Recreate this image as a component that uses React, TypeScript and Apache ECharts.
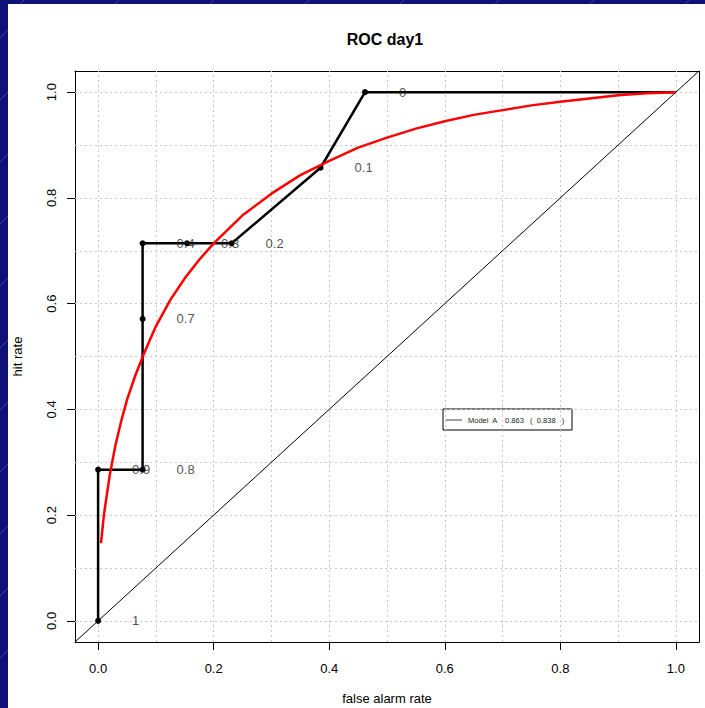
import React, { useEffect, useRef } from 'react';
import * as echarts from 'echarts';

// Empirical ROC points (false alarm rate, hit rate) with threshold labels
const rocFpr = [0, 0, 0.077, 0.077, 0.077, 0.154, 0.231, 0.385, 0.462, 1];
const rocTpr = [0, 0.286, 0.286, 0.571, 0.714, 0.714, 0.714, 0.857, 1, 1];
const thresholdLabels = ['1', '0.9', '0.8', '0.7', '0.4', '0.3', '0.2', '0.1', '0', ''];

// Fitted (red) ROC curve
const fitFpr = [0.005, 0.01, 0.02, 0.03, 0.04, 0.05, 0.065, 0.08, 0.1, 0.125, 0.15, 0.175, 0.2, 0.25, 0.3, 0.35, 0.4, 0.45, 0.5, 0.55, 0.6, 0.65, 0.7, 0.75, 0.8, 0.85, 0.9, 0.95, 1.0];
const fitTpr = [0.147, 0.2, 0.275, 0.332, 0.378, 0.418, 0.466, 0.507, 0.557, 0.607, 0.648, 0.683, 0.714, 0.767, 0.808, 0.843, 0.87, 0.895, 0.914, 0.931, 0.945, 0.957, 0.966, 0.975, 0.982, 0.988, 0.994, 0.998, 1.0];

// Diagonal reference line ends
const diagVals = [-0.04, 1.04];

// Axis ticks and grid lines
const tickVals = [0, 0.2, 0.4, 0.6, 0.8, 1.0];
const gridVals = [0, 0.1, 0.2, 0.3, 0.4, 0.5, 0.6, 0.7, 0.8, 0.9, 1.0];

const titleText = 'ROC day1';
const xName = 'false alarm rate';
const yName = 'hit rate';
const legendText = 'Model  A    0.863   (  0.838   )';

const FONT = '"Liberation Sans", Arial, sans-serif';
const BLUE = '#0f1176';

export default function App() {
  const ref = useRef<HTMLDivElement>(null);
  useEffect(() => {
    const chart = echarts.init(ref.current!, null, { renderer: 'svg' });

    const slashes: any[] = [];
    for (let x = 20; x < 705; x += 95) {
      slashes.push({ type: 'line', shape: { x1: x, y1: 4, x2: x + 4, y2: 0 }, style: { stroke: '#3b3d9c', lineWidth: 1 }, silent: true });
    }
    for (let y = 30; y < 708; y += 62) {
      slashes.push({ type: 'line', shape: { x1: 0, y1: y + 8, x2: 8, y2: y }, style: { stroke: '#3b3d9c', lineWidth: 1 }, silent: true });
    }

    const option: any = {
      animation: false,
      backgroundColor: '#ffffff',
      textStyle: { fontFamily: FONT },
      title: {
        text: titleText,
        left: 380,
        top: 26,
        textAlign: 'center',
        textStyle: { fontFamily: FONT, fontSize: 16, fontWeight: 'bold', color: '#000' },
      },
      grid: { left: 75, right: 6, top: 71, bottom: 66, containLabel: false, outerBoundsMode: 'none' },
      xAxis: [
        {
          type: 'value',
          min: -0.04,
          max: 1.04,
          position: 'bottom',
          axisLine: { show: true, onZero: false, lineStyle: { color: '#000', width: 1 } },
          axisTick: { show: true, customValues: tickVals, length: 8, lineStyle: { color: '#000' } },
          axisLabel: {
            show: true,
            customValues: tickVals,
            formatter: (v: number) => v.toFixed(1),
            margin: 20,
            fontSize: 13,
            color: '#000',
            fontFamily: FONT,
          },
          splitLine: { show: false },
          name: xName,
          nameLocation: 'middle',
          nameGap: 50,
          nameTextStyle: { fontSize: 13, color: '#000', fontFamily: FONT },
        },
        {
          type: 'value',
          min: -0.04,
          max: 1.04,
          position: 'top',
          axisLine: { show: true, onZero: false, lineStyle: { color: '#000', width: 1 } },
          axisTick: { show: false },
          axisLabel: { show: false },
          splitLine: { show: false },
        },
      ],
      yAxis: [
        {
          type: 'value',
          min: -0.04,
          max: 1.04,
          position: 'left',
          axisLine: { show: true, onZero: false, lineStyle: { color: '#000', width: 1 } },
          axisTick: { show: true, customValues: tickVals, length: 8, lineStyle: { color: '#000' } },
          axisLabel: {
            show: true,
            customValues: tickVals,
            formatter: (v: number) => v.toFixed(1),
            rotate: 90,
            margin: 17,
            fontSize: 13,
            color: '#000',
            fontFamily: FONT,
          },
          splitLine: { show: false },
          name: yName,
          nameLocation: 'middle',
          nameGap: 51,
          nameTextStyle: { fontSize: 13, color: '#000', fontFamily: FONT },
        },
        {
          type: 'value',
          min: -0.04,
          max: 1.04,
          position: 'right',
          axisLine: { show: true, onZero: false, lineStyle: { color: '#000', width: 1 } },
          axisTick: { show: false },
          axisLabel: { show: false },
          splitLine: { show: false },
        },
      ],
      series: [
        {
          name: 'diagonal',
          type: 'line',
          xAxisIndex: 0,
          yAxisIndex: 0,
          data: diagVals.map((v) => [v, v]),
          symbol: 'none',
          lineStyle: { color: '#000', width: 1 },
          z: 2,
          silent: true,
          markLine: {
            silent: true,
            z: 1,
            symbol: ['none', 'none'],
            label: { show: false },
            lineStyle: { color: '#c8c8c8', type: [2, 3], width: 1 },
            emphasis: { disabled: true },
            data: [
              ...gridVals.map((v) => ({ xAxis: v })),
              ...gridVals.map((v) => ({ yAxis: v })),
            ],
          },
        },
        {
          name: 'empirical',
          type: 'line',
          data: rocFpr.map((x, i) => (i === rocFpr.length - 1 ? { value: [x, rocTpr[i]], symbol: 'none' } : [x, rocTpr[i]])),
          symbol: 'circle',
          symbolSize: 6,
          showAllSymbol: true,
          itemStyle: { color: '#000' },
          lineStyle: { color: '#000', width: 2.5 },
          z: 3,
          silent: true,
        },
        {
          name: 'thresholds',
          type: 'scatter',
          data: rocFpr.map((x, i) => [x, rocTpr[i]]),
          symbolSize: 0,
          label: {
            show: true,
            position: 'right',
            distance: 34,
            formatter: (p: any) => thresholdLabels[p.dataIndex],
            fontSize: 13,
            color: '#222',
            fontFamily: FONT,
          },
          z: 4,
          silent: true,
        },
        {
          name: 'fit',
          type: 'line',
          data: fitFpr.map((x, i) => [x, fitTpr[i]]),
          symbol: 'none',
          smooth: false,
          lineStyle: { color: '#ff0000', width: 2.5 },
          z: 5,
          silent: true,
        },
      ],
      graphic: [
        { type: 'rect', shape: { x: 0, y: 0, width: 705, height: 4 }, style: { fill: BLUE }, silent: true },
        { type: 'rect', shape: { x: 0, y: 0, width: 8, height: 708 }, style: { fill: BLUE }, silent: true },
        ...slashes,
        {
          type: 'group',
          z: 100,
          children: [
            { type: 'rect', shape: { x: 443, y: 409, width: 129, height: 21 }, style: { fill: '#fff', stroke: '#000', lineWidth: 1 } },
            { type: 'line', shape: { x1: 446, y1: 420, x2: 462, y2: 420 }, style: { stroke: '#444', lineWidth: 1 } },
            {
              type: 'text',
              x: 468,
              y: 420,
              style: { text: legendText, fontSize: 7.5, fill: '#222', fontFamily: FONT, verticalAlign: 'middle', align: 'left' },
            },
          ],
        },
      ],
    };

    chart.setOption(option);
    return () => chart.dispose();
  }, []);
  return <div ref={ref} style={{ position: 'fixed', left: 0, top: 0, width: 705, height: 708 }} />;
}
